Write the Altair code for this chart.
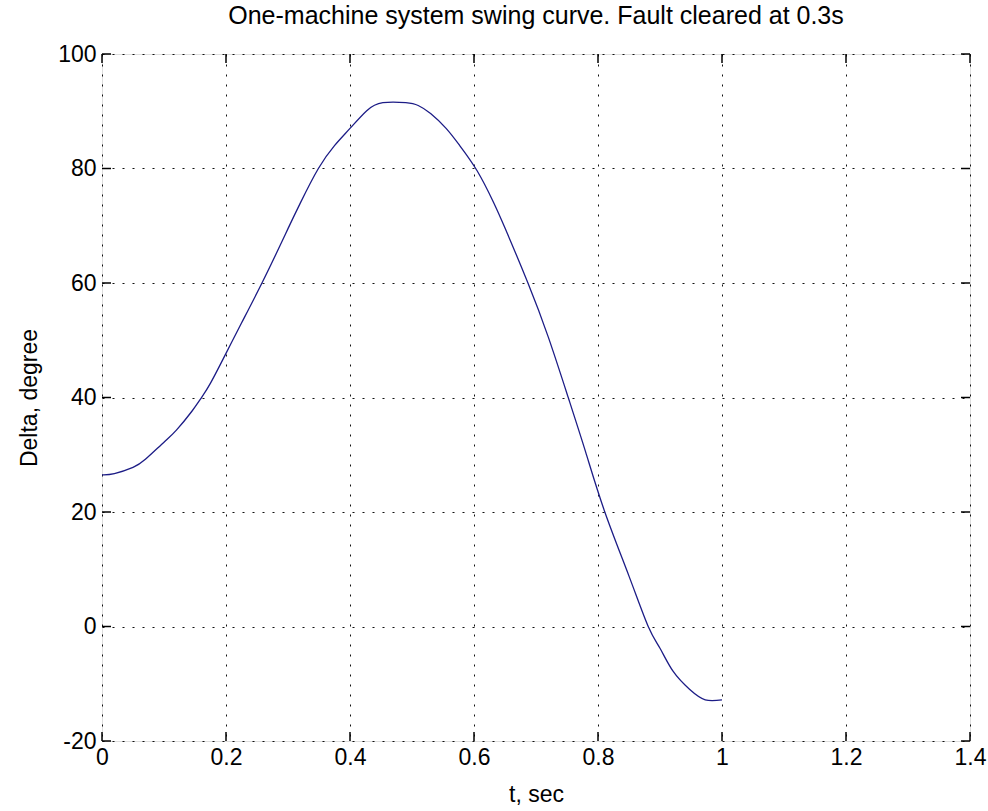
import altair as alt
import pandas as pd

# Curve samples
t_vals = [0, 0.02, 0.05, 0.07, 0.10, 0.12, 0.145, 0.16, 0.175, 0.2, 0.225, 0.258,
          0.287, 0.30, 0.32, 0.349, 0.375, 0.4, 0.427, 0.453, 0.49, 0.51, 0.53,
          0.555, 0.577, 0.605, 0.631, 0.65, 0.687, 0.72, 0.752, 0.78, 0.811,
          0.85, 0.881, 0.9, 0.921, 0.948, 0.973, 1.0]
delta_vals = [26.5, 26.7, 27.8, 29.2, 32.2, 34.3, 37.6, 39.9, 42.5, 47.7, 53, 60,
              66.5, 69.5, 74, 80, 84, 87, 90.1, 91.5, 91.5, 91, 89.6,
              87, 84, 79.6, 74.2, 69.6, 60, 50.5, 40, 30.5, 20,
              8.8, 0, -3.8, -7.8, -11, -12.8, -12.8]

x_ticks = [0, 0.2, 0.4, 0.6, 0.8, 1.0, 1.2, 1.4]
y_ticks = [-20, 0, 20, 40, 60, 80, 100]

W, H = 868, 687
FONT = "Liberation Sans"
FS = 23
TICK = 9

df = pd.DataFrame({"t": t_vals, "delta": delta_vals})
xt = pd.DataFrame({"v": x_ticks})
yt = pd.DataFrame({"v": y_ticks})

xscale = alt.Scale(domain=[0, 1.4], nice=False, zero=False)
yscale = alt.Scale(domain=[-20, 100], nice=False, zero=False)

x_axis = alt.Axis(values=x_ticks, title="t, sec", grid=True, gridDash=[2, 8],
                  gridColor="#111", gridWidth=1, gridOpacity=1, domain=False,
                  ticks=False, labelFont=FONT, labelFontSize=FS, labelColor="#000",
                  labelPadding=5, titleFont=FONT, titleFontSize=FS,
                  titleFontWeight="normal", titleColor="#000", titlePadding=14,
                  labelExpr="format(datum.value, '~g')", labelFlush=False)
y_axis = alt.Axis(values=y_ticks, title="Delta, degree", grid=True, gridDash=[2, 8],
                  gridColor="#111", gridWidth=1, gridOpacity=1, domain=False,
                  ticks=False, labelFont=FONT, labelFontSize=FS, labelColor="#000",
                  labelPadding=6, titleFont=FONT, titleFontSize=FS,
                  titleFontWeight="normal", titleColor="#000", titlePadding=16,
                  labelExpr="replace(format(datum.value, 'd'), '\u2212', '-')",
                  labelFlush=False)

line = alt.Chart(df).mark_line(color="#1c1c86", strokeWidth=1.3, interpolate="natural").encode(
    x=alt.X("t:Q", scale=xscale, axis=x_axis),
    y=alt.Y("delta:Q", scale=yscale, axis=y_axis),
)

tick_style = dict(color="#000", strokeWidth=1.5)
bx = alt.Chart(xt).mark_rule(**tick_style).encode(
    x=alt.X("v:Q", scale=xscale), y=alt.value(H), y2=alt.value(H - TICK))
tx = alt.Chart(xt).mark_rule(**tick_style).encode(
    x=alt.X("v:Q", scale=xscale), y=alt.value(0), y2=alt.value(TICK))
ly = alt.Chart(yt).mark_rule(**tick_style).encode(
    y=alt.Y("v:Q", scale=yscale), x=alt.value(0), x2=alt.value(TICK))
ry = alt.Chart(yt).mark_rule(**tick_style).encode(
    y=alt.Y("v:Q", scale=yscale), x=alt.value(W), x2=alt.value(W - TICK))

chart = alt.layer(line, bx, tx, ly, ry).properties(
    width=W, height=H,
    title=alt.TitleParams("One-machine system swing curve. Fault cleared at 0.3s",
                          font=FONT, fontSize=25, fontWeight="normal", color="#000",
                          offset=14, anchor="middle"),
    autosize=alt.AutoSizeParams(type="none"),
    padding={"left": 102, "top": 54, "right": 18, "bottom": 70},
).configure_view(stroke="#000", strokeWidth=1.5).configure(background="white")

chart.save("out.html", embed_options={"renderer": "svg", "actions": False})
